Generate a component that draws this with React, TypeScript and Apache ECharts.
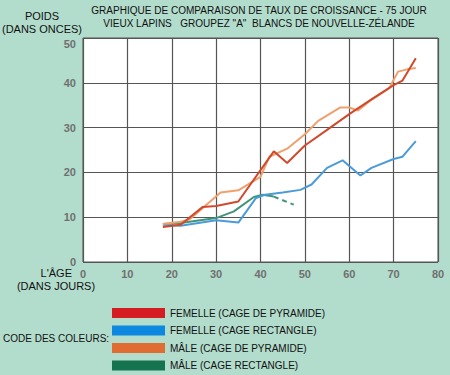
import React, { useEffect, useRef } from "react";
import * as echarts from "echarts";

const titleLines = [
  "GRAPHIQUE DE COMPARAISON DE TAUX DE CROISSANCE - 75 JOUR",
  "VIEUX LAPINS   GROUPEZ \"A\"  BLANCS DE NOUVELLE-ZÉLANDE",
];
const seriesNames = [
  "FEMELLE (CAGE DE PYRAMIDE)",
  "FEMELLE (CAGE RECTANGLE)",
  "MÂLE (CAGE DE PYRAMIDE)",
  "MÂLE (CAGE RECTANGLE)",
];
const legendColors = ["#d41c22", "#0c88e0", "#e06b33", "#157350"];
const lineColors = ["#cf4a2c", "#4a9bd8", "#f0a06c", "#3f9676"];

const femPyrDays = [18, 22, 27, 30, 35, 43, 46, 50, 55, 60, 65, 70, 72, 75];
const femPyrVals = [7.8, 8.3, 12.3, 12.5, 13.5, 24.7, 22.1, 26, 29.5, 33, 36.3, 39.5, 40.5, 45.5];

const femRectDays = [18, 22, 30, 35, 39, 41, 45, 49, 51.5, 55, 58.5, 62.5, 65, 70, 72, 75];
const femRectVals = [8.3, 8.1, 9.3, 8.8, 14.3, 15, 15.5, 16.1, 17.3, 21, 22.7, 19.3, 21, 23, 23.5, 27];

const malePyrDays = [18, 22, 24, 31, 35, 40, 42, 46, 50, 53, 58, 60, 62, 65, 69, 71, 73, 75];
const malePyrVals = [8.5, 9, 9.5, 15.5, 16, 19, 23.5, 25.3, 28.5, 31.5, 34.5, 34.5, 33.8, 36.2, 38.8, 42.5, 43, 43.3];

const maleRectDays = [18, 22, 30, 34, 38.5, 40.5, 43];
const maleRectVals = [8.5, 8.7, 9.8, 11.3, 14.5, 15, 14.6];
const maleRectDashDays = [43, 47.5];
const maleRectDashVals = [14.6, 12.8];

const xTicks = [0, 80, 10];
const yTicks = [0, 50, 10];

const pairs = (d: number[], v: number[]) => d.map((x, i) => [x, v[i]]);

export default function App() {
  const ref = useRef<HTMLDivElement>(null);
  useEffect(() => {
    if (!ref.current) return;
    const chart = echarts.init(ref.current, null, { renderer: "svg" });
    const font = "Liberation Sans, Arial, sans-serif";
    const mk = (name: string, data: number[][], color: string, z: number, dashed = false) => ({
      type: "line",
      name,
      data,
      symbol: "none",
      z,
      lineStyle: { color, width: 2, type: dashed ? [5, 4] : "solid" },
      itemStyle: { color },
    });
    chart.setOption({
      animation: false,
      backgroundColor: "#b2dccc",
      textStyle: { fontFamily: font },
      grid: {
        left: 83,
        right: 12,
        top: 38,
        bottom: 113,
        show: true,
        backgroundColor: "#ffffff",
        borderColor: "#555",
        borderWidth: 1,
      },
      xAxis: {
        type: "value",
        min: xTicks[0],
        max: xTicks[1],
        interval: xTicks[2],
        axisLine: { show: false },
        axisTick: { show: false },
        splitLine: { show: true, lineStyle: { color: "#555", width: 1.2 } },
        axisLabel: { color: "#707070", fontWeight: "bold", fontSize: 11, margin: 6, fontFamily: font },
      },
      yAxis: {
        type: "value",
        min: yTicks[0],
        max: yTicks[1],
        interval: yTicks[2],
        axisLine: { show: false },
        axisTick: { show: false },
        splitLine: { show: true, lineStyle: { color: "#555", width: 1.2 } },
        axisLabel: {
          color: "#707070",
          fontWeight: "bold",
          fontSize: 11,
          margin: 7,
          fontFamily: font,
          formatter: (v: number) => (v === yTicks[1] ? "{top|" + v + "}" : String(v)),
          rich: { top: { color: "#707070", fontWeight: "bold", fontSize: 11, fontFamily: font, padding: [11, 0, 0, 0] } },
        },
      },
      legend: {
        orient: "vertical",
        left: 112,
        top: 308,
        padding: 0,
        itemWidth: 53,
        itemHeight: 10,
        itemGap: 7.5,
        icon: "rect",
        selectedMode: false,
        textStyle: { color: "#111", fontSize: 10, fontFamily: font },
        data: seriesNames.map((n, i) => ({ name: n, itemStyle: { color: legendColors[i] } })),
      },
      graphic: [
        ...titleLines.map((t, i) => ({
          type: "text",
          x: 259,
          y: 4 + i * 13,
          scaleX: 0.914,
          style: { text: t, fill: "#111", font: `11px ${font}`, textAlign: "center" },
        })),
        { type: "text", x: 42, y: 10, style: { text: "POIDS", fill: "#111", font: `11px ${font}`, textAlign: "center" } },
        { type: "text", x: 42, y: 23, style: { text: "(DANS ONCES)", fill: "#111", font: `11px ${font}`, textAlign: "center" } },
        { type: "text", x: 72, y: 267, style: { text: "L'ÂGE", fill: "#111", font: `11px ${font}`, textAlign: "right" } },
        { type: "text", x: 56, y: 280, style: { text: "(DANS JOURS)", fill: "#111", font: `11px ${font}`, textAlign: "center" } },
        { type: "text", x: 3, y: 333, style: { text: "CODE DES COLEURS:", fill: "#111", font: `10px ${font}` } },
      ],
      series: [
        mk(seriesNames[3], pairs(maleRectDays, maleRectVals), lineColors[3], 2),
        mk(seriesNames[3] + "_d", pairs(maleRectDashDays, maleRectDashVals), lineColors[3], 2, true),
        mk(seriesNames[1], pairs(femRectDays, femRectVals), lineColors[1], 3),
        mk(seriesNames[2], pairs(malePyrDays, malePyrVals), lineColors[2], 4),
        mk(seriesNames[0], pairs(femPyrDays, femPyrVals), lineColors[0], 5),
      ],
    });
    return () => chart.dispose();
  }, []);
  return <div ref={ref} style={{ width: 450, height: 375, position: "absolute", left: 0, top: 0 }} />;
}
